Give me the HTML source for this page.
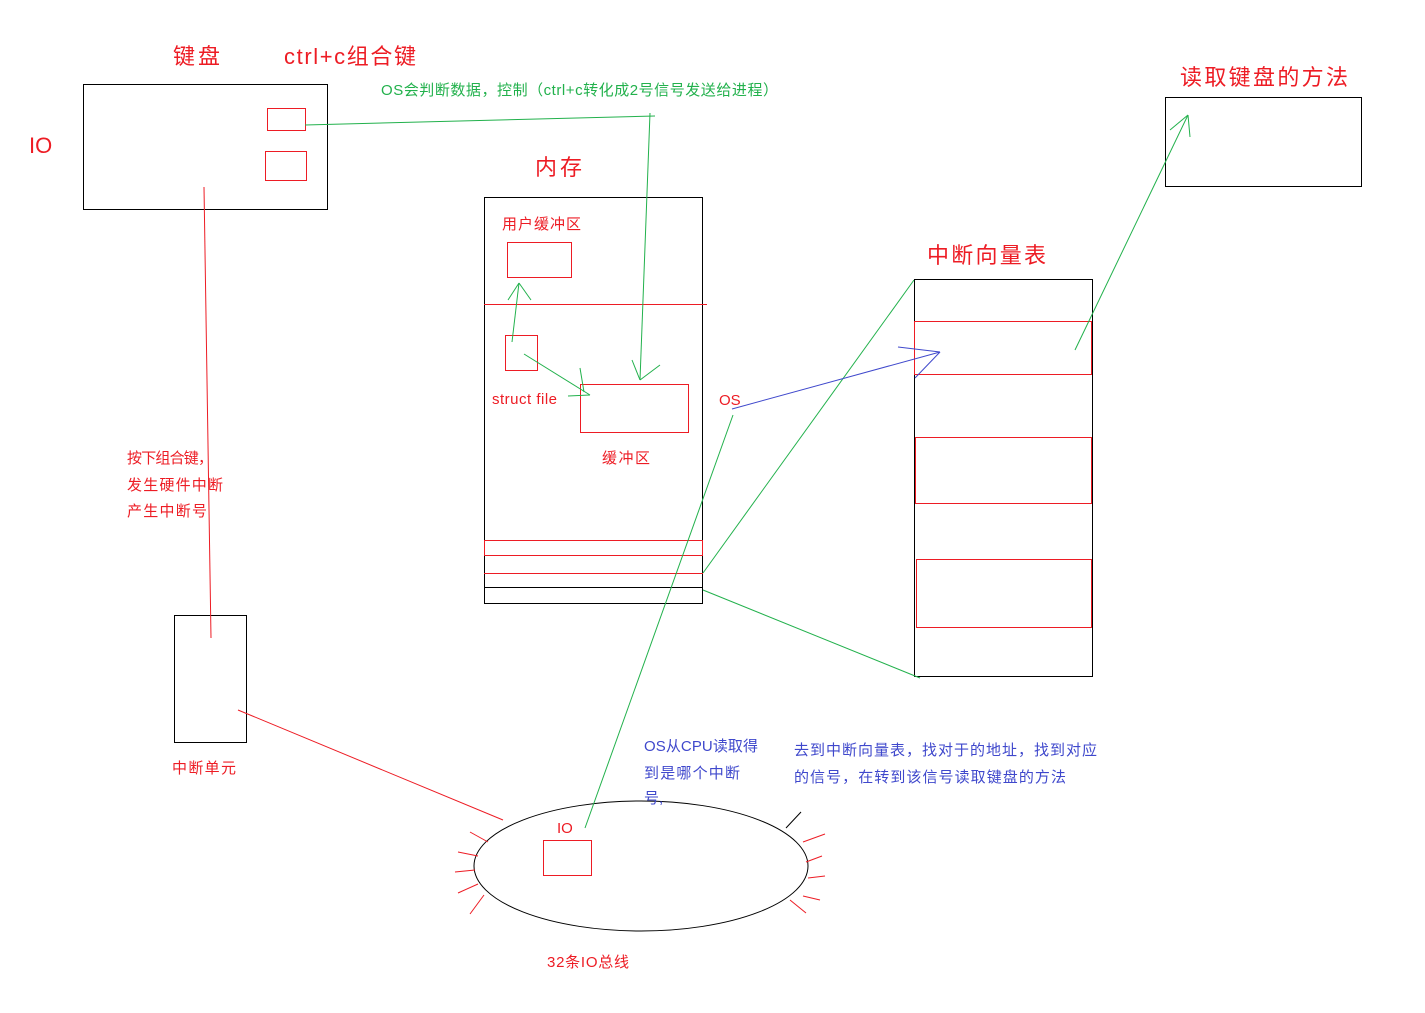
<!DOCTYPE html>
<html><head><meta charset="utf-8"><style>
html,body{margin:0;padding:0;background:#fff;}
svg{display:block;}
text{font-family:"Liberation Sans","Noto Sans CJK SC",sans-serif;dominant-baseline:middle;}
.r{fill:#ed1c24}.g{fill:#22b14c}.b{fill:#3f48cc}
</style></head><body>
<svg width="1425" height="1013" viewBox="0 0 1425 1013" xmlns="http://www.w3.org/2000/svg">
<g fill="none" stroke-width="1">
<rect x="83.5" y="84.5" width="244" height="125" stroke="#000"/>
<rect x="267.5" y="108.5" width="38" height="22" stroke="#ed1c24"/>
<rect x="265.5" y="151.5" width="41" height="29" stroke="#ed1c24"/>
<rect x="484.5" y="197.5" width="218" height="406" stroke="#000"/>
<rect x="507.5" y="242.5" width="64" height="35" stroke="#ed1c24"/>
<line x1="484" y1="304.5" x2="707" y2="304.5" stroke="#ed1c24"/>
<rect x="505.5" y="335.5" width="32" height="35" stroke="#ed1c24"/>
<rect x="580.5" y="384.5" width="108" height="48" stroke="#ed1c24"/>
<rect x="484.5" y="540.5" width="218" height="15" stroke="#ed1c24"/>
<rect x="484.5" y="573.5" width="218" height="14" stroke="#000"/>
<line x1="484" y1="573.5" x2="703" y2="573.5" stroke="#ed1c24"/>
<rect x="914.5" y="279.5" width="178" height="397" stroke="#000"/>
<rect x="914.5" y="321.5" width="177" height="53" stroke="#ed1c24"/>
<rect x="915.5" y="437.5" width="176" height="66" stroke="#ed1c24"/>
<rect x="916.5" y="559.5" width="175" height="68" stroke="#ed1c24"/>
<rect x="1165.5" y="97.5" width="196" height="89" stroke="#000"/>
<rect x="174.5" y="615.5" width="72" height="127" stroke="#000"/>
<ellipse cx="641" cy="866" rx="167" ry="65" stroke="#000"/>
<rect x="543.5" y="840.5" width="48" height="35" stroke="#ed1c24"/>
<g stroke="#ed1c24">
<line x1="204" y1="187" x2="211" y2="638"/>
<line x1="238" y1="710" x2="503" y2="820"/>
<line x1="470" y1="832" x2="488" y2="842"/>
<line x1="458" y1="852" x2="478" y2="856"/>
<line x1="455" y1="872" x2="475" y2="870"/>
<line x1="458" y1="893" x2="478" y2="884"/>
<line x1="470" y1="914" x2="484" y2="895"/>
<line x1="803" y1="842" x2="825" y2="834"/>
<line x1="806" y1="862" x2="822" y2="856"/>
<line x1="808" y1="878" x2="825" y2="876"/>
<line x1="803" y1="896" x2="820" y2="900"/>
<line x1="790" y1="900" x2="806" y2="913"/>
</g>
<line x1="786" y1="828" x2="801" y2="812" stroke="#000"/>
<g stroke="#22b14c">
<line x1="305" y1="125" x2="655" y2="116"/>
<line x1="650" y1="113" x2="640" y2="380"/>
<line x1="632" y1="360" x2="640" y2="380"/>
<line x1="640" y1="380" x2="660" y2="365"/>
<line x1="512" y1="342" x2="519" y2="283"/>
<line x1="508" y1="300" x2="519" y2="283"/>
<line x1="519" y1="283" x2="531" y2="300"/>
<line x1="524" y1="354" x2="590" y2="395"/>
<line x1="580" y1="368" x2="584" y2="392"/>
<line x1="568" y1="396" x2="590" y2="395"/>
<line x1="703" y1="573" x2="914" y2="280"/>
<line x1="703" y1="590" x2="920" y2="678"/>
<line x1="585" y1="828" x2="733" y2="415"/>
<line x1="1075" y1="350" x2="1188" y2="115"/>
<line x1="1170" y1="130" x2="1188" y2="115"/>
<line x1="1188" y1="115" x2="1190" y2="137"/>
</g>
<g stroke="#3f48cc">
<line x1="732" y1="409" x2="940" y2="352"/>
<line x1="898" y1="347" x2="940" y2="352"/>
<line x1="940" y1="352" x2="915" y2="378"/>
</g>
</g>
<text class="r" x="173" y="58" font-size="22" textLength="47">键盘</text>
<text class="r" x="284" y="58" font-size="22" textLength="132">ctrl+c组合键</text>
<text class="r" x="29" y="147" font-size="22">IO</text>
<text class="g" x="381" y="91" font-size="15" textLength="397">OS会判断数据，控制（ctrl+c转化成2号信号发送给进程）</text>
<text class="r" x="535" y="169" font-size="22" textLength="47">内存</text>
<text class="r" x="502" y="225" font-size="15" textLength="79">用户缓冲区</text>
<text class="r" x="492" y="400" font-size="15" textLength="65">struct file</text>
<text class="r" x="602" y="459" font-size="15" textLength="48">缓冲区</text>
<text class="r" x="719" y="401" font-size="15">OS</text>
<text class="r" x="927" y="257" font-size="22" textLength="119">中断向量表</text>
<text class="r" x="1180" y="79" font-size="22" textLength="168">读取键盘的方法</text>
<text class="r" x="127" y="459" font-size="15" textLength="86">按下组合键，</text>
<text class="r" x="127" y="486" font-size="15" textLength="96">发生硬件中断</text>
<text class="r" x="127" y="512" font-size="15" textLength="80">产生中断号</text>
<text class="r" x="172" y="769" font-size="15" textLength="64">中断单元</text>
<text class="r" x="557" y="829" font-size="15">IO</text>
<text class="r" x="547" y="963" font-size="15" textLength="82">32条IO总线</text>
<text class="b" x="644" y="747" font-size="15" textLength="114">OS从CPU读取得</text>
<text class="b" x="644" y="774" font-size="15" textLength="96">到是哪个中断</text>
<text class="b" x="644" y="799" font-size="15">号,</text>
<text class="b" x="794" y="751" font-size="15" textLength="303">去到中断向量表，找对于的地址，找到对应</text>
<text class="b" x="794" y="778" font-size="15" textLength="272">的信号，在转到该信号读取键盘的方法</text>
</svg>
</body></html>
